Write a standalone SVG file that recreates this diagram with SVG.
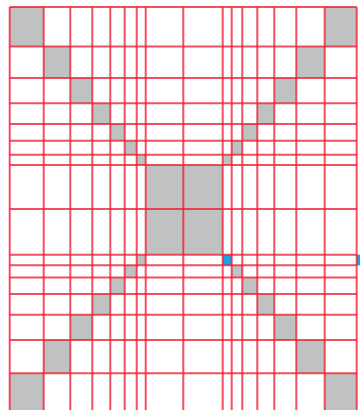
<svg xmlns="http://www.w3.org/2000/svg" width="360" height="410" viewBox="0 0 360 410">
<style>
.g{fill:#c0c1c3}
.b{fill:#14a6e8}
.l{stroke:#ef1f30;stroke-width:2;stroke-opacity:0.78;fill:none}
</style>
<rect width="360" height="410" fill="#fff"/>
<g id="cells">
<rect class="g" x="9.7" y="7" width="34" height="39.5"/>
<rect class="g" x="43.7" y="46.5" width="26.6" height="31.5"/>
<rect class="g" x="70.3" y="78" width="22" height="25.3"/>
<rect class="g" x="92.3" y="103.3" width="18" height="20.7"/>
<rect class="g" x="110.3" y="124" width="14.4" height="16.7"/>
<rect class="g" x="124.7" y="140.7" width="12" height="14"/>
<rect class="g" x="136.7" y="154.7" width="9" height="10.3"/>
<rect class="g" x="324.7" y="7" width="32" height="39.5"/>
<rect class="g" x="296.3" y="46.5" width="28.4" height="31.5"/>
<rect class="g" x="274.3" y="78" width="22" height="25.3"/>
<rect class="g" x="257.3" y="103.3" width="17" height="20.7"/>
<rect class="g" x="242.3" y="124" width="15" height="16.7"/>
<rect class="g" x="231.7" y="140.7" width="10.6" height="14"/>
<rect class="g" x="222.7" y="154.7" width="9" height="10.3"/>
<rect class="g" x="145.7" y="165" width="77" height="89.7"/>
<rect class="g" x="136.7" y="254.7" width="9" height="10.6"/>
<rect class="g" x="124.7" y="265.3" width="12" height="12.2"/>
<rect class="g" x="110.3" y="277.5" width="14.4" height="16.5"/>
<rect class="g" x="92.3" y="294" width="18" height="20.7"/>
<rect class="g" x="70.3" y="314.7" width="22" height="25.3"/>
<rect class="g" x="43.7" y="340" width="26.6" height="33.3"/>
<rect class="g" x="9.7" y="373.3" width="34" height="38.7"/>
<rect class="b" x="222.7" y="254.7" width="9" height="10.6"/>
<rect class="g" x="231.7" y="265.3" width="10.6" height="12.2"/>
<rect class="g" x="242.3" y="277.5" width="15" height="16.5"/>
<rect class="g" x="257.3" y="294" width="17" height="20.7"/>
<rect class="g" x="274.3" y="314.7" width="22" height="25.3"/>
<rect class="g" x="296.3" y="340" width="28.4" height="33.3"/>
<rect class="g" x="324.7" y="373.3" width="32" height="38.7"/>
<rect class="b" x="356.7" y="254.7" width="10" height="10.6"/>
</g>
<g id="grid" class="l">
<path d="M9.7 7V412M43.7 7V412M70.3 7V412M92.3 7V412M110.3 7V412M124.7 7V412M136.7 7V412M145.7 7V412M183.3 7V412M222.7 7V412M231.7 7V412M242.3 7V412M257.3 7V412M274.3 7V412M296.3 7V412M324.7 7V412M356.7 7V412"/>
<path d="M9.7 7H356.7M9.7 46.5H356.7M9.7 78H356.7M9.7 103.3H356.7M9.7 124H356.7M9.7 140.7H356.7M9.7 154.7H356.7M9.7 165H356.7M9.7 209H356.7M9.7 254.7H356.7M9.7 265.3H356.7M9.7 277.5H356.7M9.7 294H356.7M9.7 314.7H356.7M9.7 340H356.7M9.7 373.3H356.7"/>
</g>
</svg>
